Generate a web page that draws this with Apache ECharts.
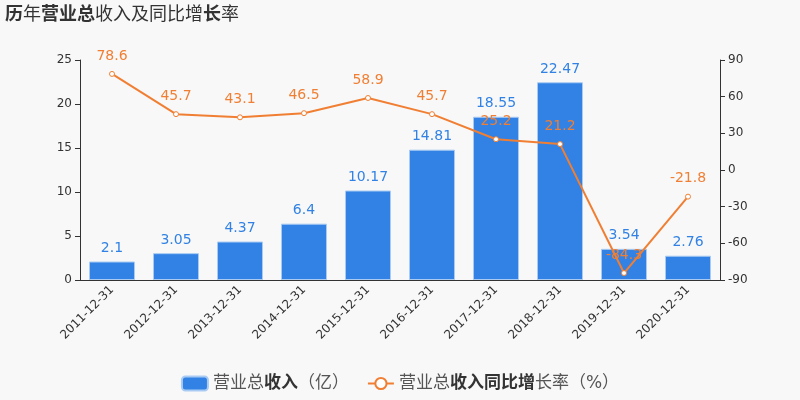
<!DOCTYPE html>
<html>
<head>
<meta charset="utf-8">
<script src="https://cdn.jsdelivr.net/npm/echarts@6/dist/echarts.min.js"></script>
<style>
  html, body { margin: 0; padding: 0; background: #f8f8f8; }
  #chart { width: 800px; height: 400px; }
</style>
</head>
<body>
<div id="chart"></div>
<script>
// 年份
var years = ['2011-12-31', '2012-12-31', '2013-12-31', '2014-12-31', '2015-12-31',
  '2016-12-31', '2017-12-31', '2018-12-31', '2019-12-31', '2020-12-31'];
// 营业总收入（亿）
var revenue = [2.1, 3.05, 4.37, 6.4, 10.17, 14.81, 18.55, 22.47, 3.54, 2.76];
// 同比增长率（%）
var growth = [78.6, 45.7, 43.1, 46.5, 58.9, 45.7, 25.2, 21.2, -84.3, -21.8];

var font = '"DejaVu Sans", "Noto Sans CJK SC", sans-serif';
var chart = echarts.init(document.getElementById('chart'));

var option = {
  backgroundColor: '#f8f8f8',
  textStyle: { fontFamily: font },
  title: {
    left: 0,
    top: 1,
    text: '{b|历}{n|年}{b|营业总}{n|收入及同比增}{b|长}{n|率}',
    textStyle: {
      fontWeight: 'normal',
      rich: {
        b: { fontSize: 18, fontWeight: 'bold', color: '#333', fontFamily: font },
        n: { fontSize: 18, fontWeight: 'normal', color: '#333', fontFamily: font }
      }
    }
  },
  legend: {
    bottom: 3,
    left: 'center',
    itemWidth: 26,
    itemHeight: 14,
    itemGap: 18,
    data: [
      { name: '营业总收入（亿）', icon: 'roundRect' },
      { name: '营业总收入同比增长率（%）' }
    ],
    formatter: function (name) {
      if (name === '营业总收入（亿）') return '{n|营业总}{b|收入}{n|（亿）}';
      return '{n|营业总}{b|收入同比增}{n|长率（%）}';
    },
    textStyle: {
      rich: {
        n: { fontSize: 17, color: '#555', fontFamily: font },
        b: { fontSize: 17, color: '#333', fontWeight: 'bold', fontFamily: font }
      }
    }
  },
  grid: { left: 80, right: 80, top: 60, bottom: 120 },
  xAxis: {
    type: 'category',
    data: years,
    axisLine: { lineStyle: { color: '#333' } },
    axisTick: { alignWithLabel: false, lineStyle: { color: '#333' } },
    axisLabel: { rotate: 45, color: '#333', fontSize: 12, interval: 0 }
  },
  yAxis: [
    {
      type: 'value',
      min: 0, max: 25, interval: 5,
      splitLine: { show: false },
      axisLine: { show: true, lineStyle: { color: '#333' } },
      axisTick: { show: true },
      axisLabel: { color: '#333', fontSize: 12 }
    },
    {
      type: 'value',
      min: -90, max: 90, interval: 30,
      splitLine: { show: false },
      axisLine: { show: true, lineStyle: { color: '#333' } },
      axisTick: { show: true },
      axisLabel: { color: '#333', fontSize: 12 }
    }
  ],
  series: [
    {
      name: '营业总收入（亿）',
      type: 'bar',
      data: revenue,
      barWidth: 46,
      itemStyle: { color: '#3182e4', borderColor: '#a9cbf3', borderWidth: 1 },
      label: { show: true, position: 'top', color: '#3182e4', fontSize: 14, distance: 6 }
    },
    {
      name: '营业总收入同比增长率（%）',
      type: 'line',
      yAxisIndex: 1,
      data: growth,
      symbol: 'circle',
      symbolSize: 5,
      itemStyle: { color: '#fff', borderColor: '#f07f33', borderWidth: 1 },
      lineStyle: { color: '#f07f33', width: 2 },
      label: { show: true, position: 'top', color: '#f07f33', fontSize: 14, distance: 8 }
    }
  ]
};

chart.setOption(option);
</script>
</body>
</html>
